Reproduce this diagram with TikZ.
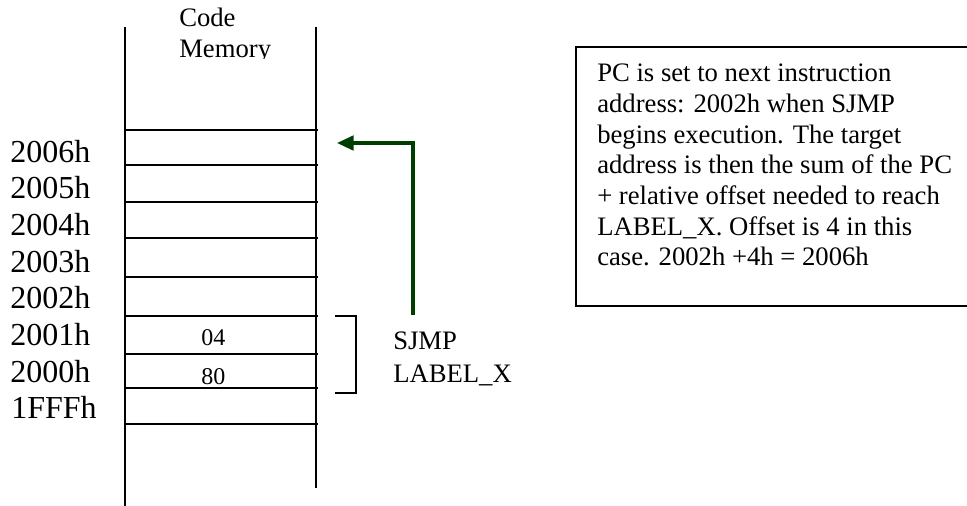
\documentclass[tikz,border=0pt]{standalone}
\usepackage{fontspec}
\setmainfont{Liberation Serif}
\usetikzlibrary{arrows.meta}
\definecolor{arrowgreen}{RGB}{0,62,0}
\begin{document}
\begin{tikzpicture}[x=0.75pt,y=-0.75pt,
  memline/.style={draw=black,line width=1.5pt},
  addr/.style={anchor=base west,inner sep=0pt,font=\fontsize{24}{27.6}\selectfont},
  cellval/.style={anchor=base,inner sep=0pt,font=\fontsize{18}{21}\selectfont},
  plain/.style={anchor=base west,inner sep=0pt,font=\fontsize{20}{23}\selectfont},
  bracketline/.style={draw=black,line width=1.2pt},
  jumparrow/.style={draw=arrowgreen,line width=2.3pt,-{Triangle[length=12.5pt,width=11pt]}},
  notebox/.style={draw=black,line width=1.5pt}]
\useasboundingbox (0,0) rectangle (967,506);
% memory column
\draw[memline] (125,27) -- (125,506);
\draw[memline] (316,27) -- (316,488);
\foreach \yy in {130,165,202,238,277,316,354,388,424}
  \draw[memline] (125,\yy) -- (318,\yy);
% title, clipped at the bottom as in the reference
\begin{scope}
\clip (150,0) rectangle (300,59);
\node[plain] (code) at (179,27) {Code};
\node[plain] (mem) at (179,57.5) {Memory};
\end{scope}
% addresses
\node[addr] (a2006) at (10,162.5) {2006h};
\node[addr] (a2005) at (10,199) {2005h};
\node[addr] (a2004) at (10,235.5) {2004h};
\node[addr] (a2003) at (10,272) {2003h};
\node[addr] (a2002) at (10,308.5) {2002h};
\node[addr] (a2001) at (10,345) {2001h};
\node[addr] (a2000) at (10,382) {2000h};
\node[addr] (a1fff) at (11,418.5) {1FFFh};
% cell contents
\node[cellval] (v04) at (213.3,345) {04};
\node[cellval] (v80) at (213.3,384) {80};
% bracket
\draw[bracketline] (335,316) -- (356,316) -- (356,393) -- (335,393);
\node[plain] (sjmp) at (393,349) {SJMP};
\node[plain] (lbl) at (393,382.5) {LABEL\_X};
% jump arrow
\coordinate (from) at (413,315);
\coordinate (to) at (337,143);
\draw[jumparrow] (from) |- (to);
% note box
\draw[notebox] (576,47) rectangle (990,306);
\node[anchor=north west,inner sep=0pt,align=left,
      font=\fontsize{20}{23}\selectfont] (note) at (597,64)
 {PC is set to next instruction\\
  address: 2002h when SJMP\\
  begins execution. The target\\
  address is then the sum of the PC\\
  + relative offset needed to reach\\
  LABEL\_X. Offset is 4 in this\\
  case. 2002h +4h = 2006h};
\end{tikzpicture}
\end{document}
